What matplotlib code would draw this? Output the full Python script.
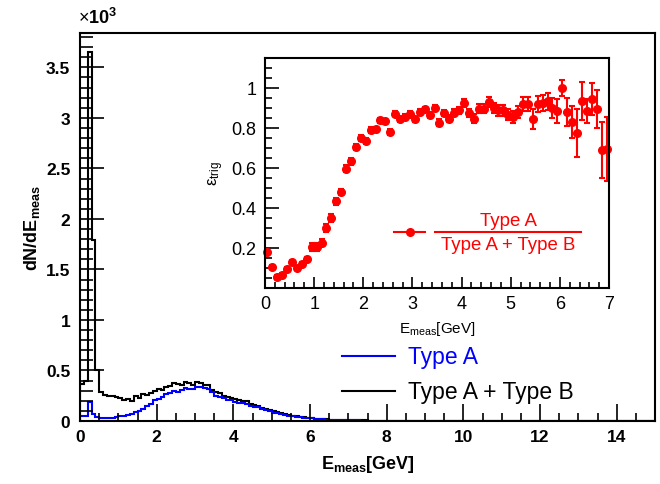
import matplotlib
matplotlib.use("Agg")
import matplotlib.pyplot as plt
from matplotlib.lines import Line2D
from matplotlib.ticker import MultipleLocator
import numpy as np

plt.rcParams['font.family'] = ['Liberation Sans', 'DejaVu Sans']
plt.rcParams['mathtext.fontset'] = 'custom'
plt.rcParams['mathtext.rm'] = 'Liberation Sans'
plt.rcParams['mathtext.it'] = 'Liberation Sans:italic'
plt.rcParams['mathtext.bf'] = 'Liberation Sans:bold'

# main histogram: 0.1 GeV bins from 0 to 15 GeV, counts in units of 10^3
bin_edges = np.linspace(0.0, 15.0, 151)

type_a_plus_b = [
    0.37, 0.40, 3.65, 1.79, 0.50, 0.29, 0.26, 0.25, 0.25, 0.24,
    0.23, 0.21, 0.22, 0.20, 0.25, 0.23, 0.27, 0.26, 0.28, 0.30,
    0.32, 0.31, 0.34, 0.35, 0.38, 0.37, 0.36, 0.39, 0.38, 0.36,
    0.39, 0.38, 0.36, 0.36, 0.31, 0.29, 0.28, 0.25, 0.24, 0.23,
    0.22, 0.21, 0.20, 0.20, 0.17, 0.16, 0.15, 0.13, 0.12, 0.11,
    0.10, 0.09, 0.08, 0.07, 0.06, 0.05, 0.045, 0.04, 0.035, 0.03,
    0.028, 0.022, 0.02, 0.018, 0.015, 0.012, 0.011, 0.01, 0.009, 0.008,
    0.007, 0.006, 0.006, 0.005, 0.005, 0.004, 0.004, 0.004, 0.003, 0.003,
    0.003, 0.003, 0.002, 0.002, 0.003, 0.002, 0.002, 0.002, 0.002, 0.001,
    0.002, 0.001, 0.001, 0.002, 0.001, 0.001, 0.001, 0.001, 0.002, 0.001,
    0.001, 0.001, 0.001, 0.0, 0.001, 0.001, 0.0, 0.001, 0.0, 0.001,
    0.0, 0.001, 0.0, 0.0, 0.001, 0.0, 0.0, 0.0, 0.001, 0.0,
    0.0, 0.0, 0.0, 0.001, 0.0, 0.0, 0.0, 0.0, 0.0, 0.0,
    0.0, 0.0, 0.0, 0.0, 0.0, 0.0, 0.0, 0.0, 0.0, 0.0,
    0.0, 0.0, 0.0, 0.0, 0.0, 0.0, 0.0, 0.0, 0.0, 0.0,
]

type_a = [
    0.05, 0.05, 0.185, 0.07, 0.04, 0.025, 0.025, 0.028, 0.03, 0.035,
    0.045, 0.048, 0.06, 0.07, 0.09, 0.10, 0.12, 0.15, 0.17, 0.21,
    0.22, 0.24, 0.27, 0.28, 0.30, 0.29, 0.31, 0.33, 0.32, 0.32,
    0.34, 0.34, 0.33, 0.32, 0.29, 0.25, 0.24, 0.23, 0.21, 0.21,
    0.19, 0.18, 0.18, 0.17, 0.15, 0.14, 0.14, 0.12, 0.11, 0.10,
    0.08, 0.08, 0.07, 0.06, 0.05, 0.045, 0.04, 0.036, 0.032, 0.027,
    0.025, 0.02, 0.018, 0.016, 0.013, 0.011, 0.01, 0.009, 0.008, 0.007,
    0.006, 0.005, 0.005, 0.004, 0.004, 0.004, 0.003, 0.003, 0.003, 0.002,
    0.002, 0.002, 0.002, 0.002, 0.002, 0.002, 0.001, 0.002, 0.001, 0.001,
    0.001, 0.001, 0.001, 0.002, 0.001, 0.001, 0.001, 0.001, 0.001, 0.001,
    0.001, 0.0, 0.001, 0.0, 0.001, 0.0, 0.0, 0.001, 0.0, 0.0,
    0.0, 0.001, 0.0, 0.0, 0.0, 0.0, 0.0, 0.0, 0.001, 0.0,
    0.0, 0.0, 0.0, 0.0, 0.0, 0.0, 0.0, 0.0, 0.0, 0.0,
    0.0, 0.0, 0.0, 0.0, 0.0, 0.0, 0.0, 0.0, 0.0, 0.0,
    0.0, 0.0, 0.0, 0.0, 0.0, 0.0, 0.0, 0.0, 0.0, 0.0,
]

# inset: trigger efficiency per 0.1 GeV bin (bin centres 0.05 ... 6.95)
eff_x = np.arange(70) * 0.1 + 0.05
eff_y = [
    0.18, 0.105, 0.055, 0.066, 0.093, 0.13, 0.10, 0.12, 0.143, 0.205,
    0.205, 0.227, 0.30, 0.35, 0.433, 0.48, 0.597, 0.633, 0.705, 0.75,
    0.733, 0.79, 0.793, 0.838, 0.833, 0.78, 0.872, 0.843, 0.855, 0.872,
    0.843, 0.88, 0.893, 0.867, 0.90, 0.827, 0.875, 0.847, 0.877, 0.888,
    0.927, 0.877, 0.847, 0.897, 0.897, 0.93, 0.90, 0.888, 0.888, 0.867,
    0.855, 0.88, 0.92, 0.92, 0.847, 0.92, 0.927, 0.933, 0.90, 0.883,
    1.0, 0.88, 0.83, 0.777, 0.933, 0.885, 0.943, 0.893, 0.688, 0.693,
]
eff_err = [
    0.012, 0.01, 0.008, 0.008, 0.01, 0.012, 0.012, 0.012, 0.014, 0.018,
    0.018, 0.018, 0.018, 0.018, 0.018, 0.016, 0.016, 0.016, 0.015, 0.015,
    0.015, 0.014, 0.014, 0.013, 0.013, 0.013, 0.013, 0.013, 0.013, 0.013,
    0.014, 0.014, 0.014, 0.015, 0.015, 0.016, 0.016, 0.017, 0.018, 0.018,
    0.02, 0.02, 0.021, 0.022, 0.023, 0.024, 0.025, 0.026, 0.027, 0.028,
    0.03, 0.032, 0.034, 0.035, 0.05, 0.038, 0.04, 0.042, 0.05, 0.06,
    0.04, 0.07, 0.08, 0.12, 0.095, 0.06, 0.08, 0.095, 0.14, 0.16,
]

fig = plt.figure(figsize=(6.6, 4.85), dpi=100)

# ---- main panel
ax = fig.add_axes([80 / 660, 63 / 485, 575 / 660, 388 / 485])
ax.stairs(type_a_plus_b, bin_edges, color='black', linewidth=1.5, baseline=0)
ax.stairs(type_a, bin_edges, color='blue', linewidth=1.5, baseline=0)
ax.set_xlim(0, 15)
ax.set_ylim(0, 3.84)
ax.xaxis.set_major_locator(MultipleLocator(2))
ax.xaxis.set_minor_locator(MultipleLocator(0.5))
ax.yaxis.set_major_locator(MultipleLocator(0.5))
ax.yaxis.set_minor_locator(MultipleLocator(0.1))
ax.tick_params(which='both', direction='in', top=False, right=False,
               width=1.2, labelsize=12.5)
ax.tick_params(axis='x', which='major', length=12, pad=6)
ax.tick_params(axis='x', which='minor', length=6)
ax.tick_params(axis='y', which='major', length=17, pad=7)
ax.tick_params(axis='y', which='minor', length=9)
for lab in ax.get_xticklabels() + ax.get_yticklabels():
    lab.set_fontweight('bold')
ax.yaxis.set_major_formatter(plt.FuncFormatter(lambda v, p: '%g' % v))
for s in ax.spines.values():
    s.set_linewidth(1.5)
ax.set_xlabel(r'$\mathbf{E_{meas}[GeV]}$', fontsize=13, labelpad=6)
ax.set_ylabel(r'$\mathbf{dN/dE_{meas}}$', fontsize=13, labelpad=3)
fig.text(78 / 660, 1 - 24 / 485, r'$\times\mathbf{10^{3}}$', fontsize=13,
         ha='left', va='baseline')

# main legend
for yy, col, txt in [(0.1675, 'blue', 'Type A'),
                     (0.077, 'black', 'Type A + Type B')]:
    ax.add_line(Line2D([0.456, 0.548], [yy, yy], transform=ax.transAxes,
                       color=col, linewidth=1.5))
    ax.text(0.570, yy, txt, transform=ax.transAxes, color=col,
            fontsize=16.5, va='center', ha='left')

# ---- inset
ins = fig.add_axes([265 / 660, 196 / 485, 344 / 660, 230 / 485])
ins.errorbar(eff_x, eff_y, yerr=eff_err, fmt='o', color='red', ms=5.5,
             elinewidth=1.5, capsize=2, capthick=1.5, clip_on=False)
ins.set_xlim(0, 7)
ins.set_ylim(0.0, 1.15)
ins.xaxis.set_major_locator(MultipleLocator(1))
ins.xaxis.set_minor_locator(MultipleLocator(0.2))
ins.yaxis.set_major_locator(MultipleLocator(0.2))
ins.yaxis.set_minor_locator(MultipleLocator(0.05))
ins.set_yticks([0.2, 0.4, 0.6, 0.8, 1.0])
ins.set_yticklabels(['0.2', '0.4', '0.6', '0.8', '1'])
ins.tick_params(which='both', direction='in', top=False, right=False,
                width=1.2, labelsize=13)
ins.tick_params(axis='x', which='major', length=8, pad=5)
ins.tick_params(axis='x', which='minor', length=4)
ins.tick_params(axis='y', which='major', length=10, pad=6)
ins.tick_params(axis='y', which='minor', length=5)
for s in ins.spines.values():
    s.set_linewidth(1.5)
ins.set_xlabel(r'E$_{\mathrm{meas}}$[GeV]', fontsize=11, labelpad=5)
ins.set_ylabel(r'ε$_{\mathrm{trig}}$', fontsize=12, labelpad=4)

# inset legend: marker with fraction label
bar_y = (289 - 232.6) / 230
ins.add_line(Line2D([(394 - 265) / 344, (425 - 265) / 344], [bar_y, bar_y],
                    transform=ins.transAxes, color='red', linewidth=1.5))
ins.add_line(Line2D([(410 - 265) / 344], [bar_y], transform=ins.transAxes,
                    color='red', marker='o', ms=5.5))
ins.add_line(Line2D([(435 - 265) / 344, (581 - 265) / 344], [bar_y, bar_y],
                    transform=ins.transAxes, color='red', linewidth=1.5))
ins.text((508 - 265) / 344, (289 - 225.5) / 230, 'Type A',
         transform=ins.transAxes, color='red', fontsize=13.4,
         ha='center', va='baseline')
ins.text((508 - 265) / 344, (289 - 250) / 230, 'Type A + Type B',
         transform=ins.transAxes, color='red', fontsize=13.4,
         ha='center', va='baseline')

fig.savefig('out.png', dpi=100)
